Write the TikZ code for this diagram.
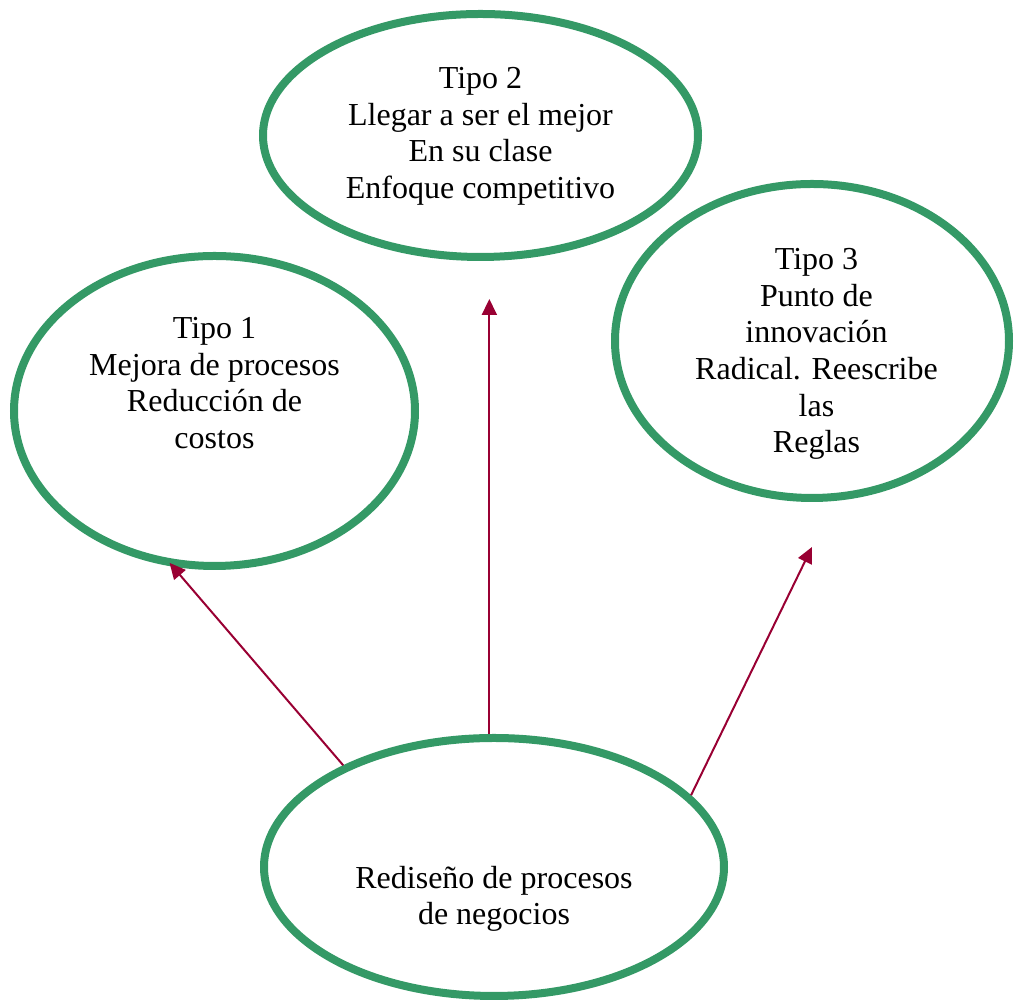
\documentclass[tikz,border=0pt]{standalone}
\usepackage{fontspec}
\setmainfont{Liberation Serif}
\usepackage{tikz}
\usetikzlibrary{arrows.meta,shapes.geometric}
\definecolor{ovalgreen}{RGB}{52,153,102}
\definecolor{linkred}{RGB}{153,0,51}

\begin{document}
\begin{tikzpicture}[
  x=0.5pt,y=0.5pt,
  oval/.style={ellipse,draw=ovalgreen,line width=4pt,inner sep=0pt},
  txt/.style={align=center,inner sep=0pt,font=\fontsize{16pt}{18.3pt}\selectfont},
  arrow/.style={-{Triangle[length=8pt,width=7.5pt]},line width=1pt,draw=linkred}
]
\useasboundingbox (0,0) rectangle (1014,1000);
% ovals
\node[oval,minimum width=217.5pt,minimum height=121.5pt] (tipo2) at (480.5,864.5) {};
\node[oval,minimum width=200.5pt,minimum height=155pt] (tipo1) at (214.5,589) {};
\node[oval,minimum width=197pt,minimum height=157pt] (tipo3) at (812,659) {};
\node[oval,minimum width=230pt,minimum height=129pt] (redis) at (494,133) {};
% texts
\node[txt] (tipo2txt) at ([yshift=-0.5pt]tipo2) {Tipo 2\\Llegar a ser el mejor\\En su clase\\Enfoque competitivo};
\node[txt] (tipo1txt) at ([yshift=14pt]tipo1) {Tipo 1\\Mejora de procesos\\Reducción de\\costos};
\node[txt] (tipo3txt) at ([xshift=2.25pt,yshift=-6.5pt]tipo3) {Tipo 3\\Punto de\\innovación\\Radical. Reescribe\\las\\Reglas};
\node[txt] (redistxt) at ([yshift=-16pt]redis) {Rediseño de procesos\\de negocios};
% arrow ends
\coordinate (tip2) at ([yshift=-19pt]tipo2.south);
\coordinate (tip3) at ([yshift=-22.5pt]tipo3.south);
\draw[arrow,shorten >=-2.5pt] (redis.146) -- (tipo1.255);
\draw[arrow] (redis.92) -- (redis.92 |- tip2);
\draw[arrow] (redis.20) -- (tip3);
\end{tikzpicture}
\end{document}
